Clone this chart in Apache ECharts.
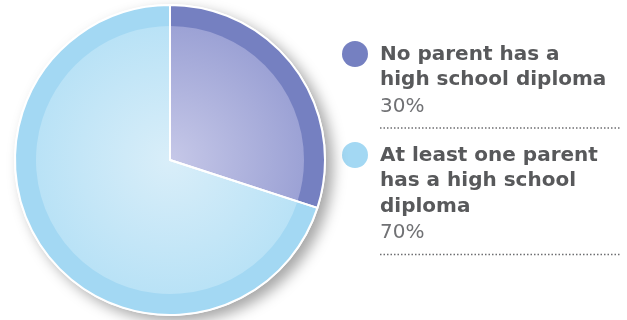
<!DOCTYPE html>
<html>
<head>
<meta charset="utf-8">
<script src="https://cdn.jsdelivr.net/npm/echarts@6/dist/echarts.min.js"></script>
<style>
  html, body { margin: 0; padding: 0; background: #fff; }
  #chart { width: 627px; height: 320px; }
</style>
</head>
<body>
<div id="chart"></div>
<script>
// Share of students by parents' education
const categories = ['No parent has a\nhigh school diploma', 'At least one parent\nhas a high school\ndiploma'];
const values = [30, 70];
const percentLabels = ['30%', '70%'];

// Palette: ring colour, inner gradient centre, inner gradient edge
const ringColors = ['#7580c1', '#a3d8f3'];
const innerCenter = ['#c6c8e8', '#d9eef9'];
const innerEdge = ['#9ca2d5', '#b9e2f6'];

const CX = 170, CY = 160, R_OUT = 155, R_IN = 134;

const chart = echarts.init(document.getElementById('chart'));

function innerGradient(i) {
  return new echarts.graphic.RadialGradient(CX, CY, R_IN, [
    { offset: 0, color: innerCenter[i] },
    { offset: 1, color: innerEdge[i] }
  ], true);
}

const pieData = categories.map((name, i) => ({ name, value: values[i] }));

// Legend entries on the right
const legendX = 355, textX = 380, lineEnd = 620;
const legendTops = [42, 143];
const LH = 25.5;
const legendGraphics = [];
categories.forEach((name, i) => {
  const top = legendTops[i];
  const lines = name.split('\n').length;
  legendGraphics.push({
    type: 'circle',
    shape: { cx: legendX, cy: top + 12, r: 13 },
    style: { fill: ringColors[i] }
  });
  legendGraphics.push({
    type: 'text',
    x: textX, y: top,
    style: {
      text: name,
      font: 'bold 20px "DejaVu Sans", sans-serif',
      lineHeight: LH,
      fill: '#58595b',
      textVerticalAlign: 'top'
    }
  });
  legendGraphics.push({
    type: 'text',
    x: textX, y: top + lines * LH + 1,
    style: {
      text: percentLabels[i],
      font: '20px "DejaVu Sans", sans-serif',
      lineHeight: LH,
      fill: '#707174',
      textVerticalAlign: 'top'
    }
  });
  const ly = top + lines * LH + 35;
  legendGraphics.push({
    type: 'line',
    shape: { x1: textX, y1: ly, x2: lineEnd, y2: ly },
    style: { stroke: '#6d6e71', lineWidth: 1.5, lineDash: [1.5, 2] }
  });
});

const pieBase = {
  type: 'pie',
  center: [CX, CY],
  startAngle: 90,
  clockwise: true,
  label: { show: false },
  labelLine: { show: false }
};

chart.setOption({
  animation: false,
  series: [
    {
      // backing disc carrying the drop shadow
      type: 'pie',
      silent: true,
      center: [CX, CY],
      radius: [0, R_OUT + 1],
      label: { show: false },
      labelLine: { show: false },
      data: [{ value: 1, itemStyle: { color: '#ffffff' } }],
      itemStyle: {
        shadowBlur: 14,
        shadowOffsetX: 7,
        shadowOffsetY: 6,
        shadowColor: 'rgba(0,0,0,0.35)'
      },
      z: 1
    },
    {
      // outer ring colours
      ...pieBase,
      radius: [0, R_OUT],
      data: pieData.map((d, i) => ({ ...d, itemStyle: { color: ringColors[i] } })),
      z: 2
    },
    {
      // inner gradient faces
      ...pieBase,
      radius: [0, R_IN],
      data: pieData.map((d, i) => ({ ...d, itemStyle: { color: innerGradient(i) } })),
      z: 3
    },
    {
      // white slice separators and rim
      ...pieBase,
      silent: true,
      radius: [0, R_OUT],
      data: pieData.map(d => ({ ...d, itemStyle: { color: 'rgba(0,0,0,0)' } })),
      itemStyle: { borderColor: '#ffffff', borderWidth: 2 },
      z: 4
    }
  ],
  graphic: legendGraphics
});
</script>
</body>
</html>
